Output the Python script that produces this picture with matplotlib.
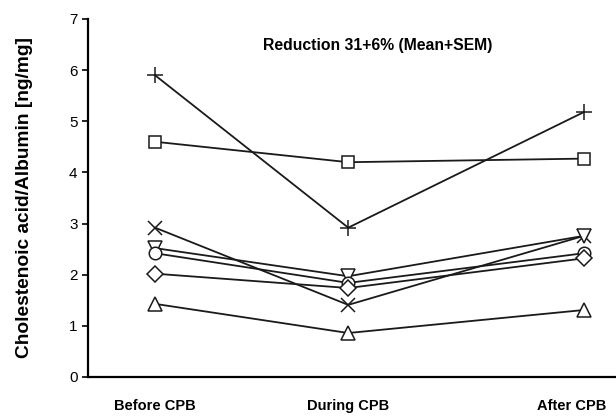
import matplotlib.pyplot as plt

# ---------------------------------------------------------------------------
# Data
# ---------------------------------------------------------------------------
categories = ["Before CPB", "During CPB", "After CPB"]
x_pos = [0, 1, 2.22]          # time points are not evenly spaced in the original
label_pos = [0, 1, 2.155]     # category labels sit slightly left of the last column

plus_vals     = [5.90, 2.92, 5.18]
square_vals   = [4.60, 4.20, 4.27]
cross_vals    = [2.92, 1.41, 2.76]
tri_down_vals = [2.52, 1.97, 2.76]
circle_vals   = [2.42, 1.84, 2.42]
diamond_vals  = [2.02, 1.74, 2.32]
tri_up_vals   = [1.43, 0.86, 1.31]

y_ticks = [0, 1, 2, 3, 4, 5, 6, 7]

series = [
    (plus_vals, "+", 12),
    (square_vals, "s", 9),
    (cross_vals, "x", 10),
    (tri_down_vals, "v", 10),
    (circle_vals, "o", 9),
    (diamond_vals, "D", 8),
    (tri_up_vals, "^", 10),
]

plt.rcParams["font.family"] = ["Liberation Sans", "DejaVu Sans"]

fig = plt.figure(figsize=(6.16, 4.16), dpi=100)
ax = fig.add_axes([88 / 616, 39 / 416, 528 / 616, 358 / 416])

for vals, m, size in series:
    ax.plot(x_pos, vals, color="#1a1a1a", linewidth=1.3, marker=m, markersize=size,
            markerfacecolor="white", markeredgecolor="#1a1a1a", markeredgewidth=1.1,
            clip_on=False)

ax.set_xlim(-0.347, 2.386)
ax.set_ylim(0, 7)
ax.set_yticks(y_ticks)
ax.set_xticks(label_pos)
ax.set_xticklabels(categories, fontsize=10.5, fontweight="bold")
ax.tick_params(axis="x", length=0, pad=16)
ax.tick_params(axis="y", length=4, width=1.2, labelsize=11, direction="out")

for side in ("top", "right"):
    ax.spines[side].set_visible(False)
for side in ("left", "bottom"):
    ax.spines[side].set_linewidth(1.6)

ax.set_ylabel("Cholestenoic acid/Albumin [ng/mg]", fontsize=13.8, fontweight="bold")
ax.yaxis.set_label_coords(-0.105, 0.5)

ax.text(0.548, 0.925, "Reduction 31+6% (Mean+SEM)", transform=ax.transAxes,
        fontsize=11.3, fontweight="bold", ha="center", va="center")

fig.savefig("out.png", dpi=100)
